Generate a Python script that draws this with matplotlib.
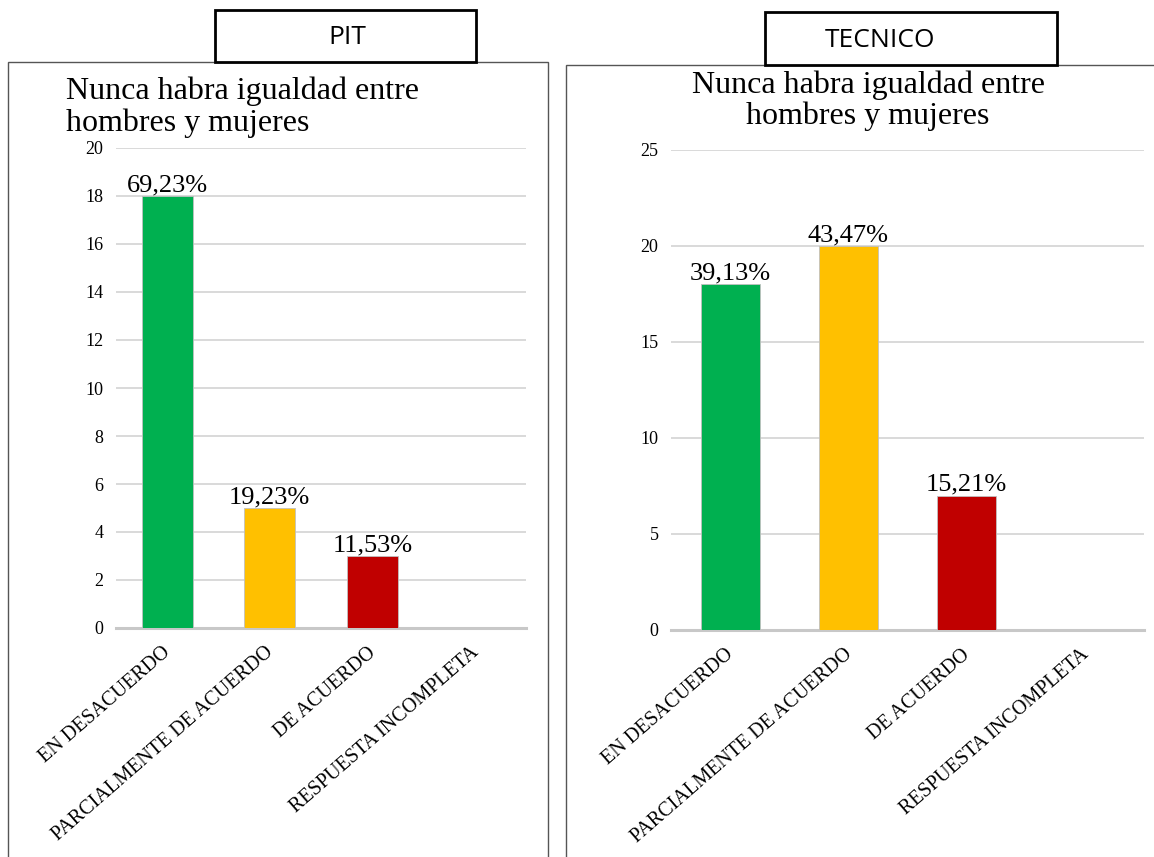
import matplotlib.pyplot as plt
import matplotlib.transforms as mtrans
from matplotlib.patches import Rectangle

# Data
categorias = ["EN DESACUERDO", "PARCIALMENTE DE ACUERDO", "DE ACUERDO", "RESPUESTA INCOMPLETA"]
pit_valores = [18, 5, 3, 0]
pit_etiquetas = ["69,23%", "19,23%", "11,53%", ""]
tec_valores = [18, 20, 7, 0]
tec_etiquetas = ["39,13%", "43,47%", "15,21%", ""]
colores = ["#00B050", "#FFC000", "#C00000", "#7F7F7F"]
titulo = "Nunca habra igualdad entre\nhombres y mujeres"

W, H = 1154, 857
fig = plt.figure(figsize=(W / 100, H / 100), dpi=100)
serif = "Liberation Serif"


def px(x0, y0, x1, y1):
    # pixel box (top-left origin) -> figure fraction rect
    return [x0 / W, 1 - y1 / H, (x1 - x0) / W, (y1 - y0) / H]


def panel(rect, valores, etiquetas, ymax, ystep):
    ax = fig.add_axes(px(*rect))
    x = range(len(categorias))
    ax.bar(x, valores, width=0.5, color=colores, edgecolor="#c0c0c0",
           linewidth=0.6, zorder=3)
    for xi, v, t in zip(x, valores, etiquetas):
        if t:
            ax.text(xi, v, t, ha="center", va="bottom",
                    fontsize=19, family=serif, zorder=4)
    ax.set_xlim(-0.5, len(categorias) - 0.5)
    ax.set_ylim(0, ymax)
    ax.set_yticks(range(0, ymax + 1, ystep))
    ax.yaxis.grid(True, color="#d9d9d9", linewidth=1.4, zorder=0)
    for s in ["top", "right", "left"]:
        ax.spines[s].set_visible(False)
    ax.spines["bottom"].set_color("#c8c8c8")
    ax.spines["bottom"].set_linewidth(2.2)
    ax.tick_params(axis="y", length=0, pad=9, labelsize=13)
    ax.tick_params(axis="x", length=0, pad=11)
    ax.set_xticks(list(x))
    ax.set_xticklabels(categorias, rotation=41, ha="right", va="top",
                       rotation_mode="anchor", fontsize=14.5, family=serif)
    shift = mtrans.ScaledTranslation(-5 / 100, 0, fig.dpi_scale_trans)
    for lab in ax.get_xticklabels():
        lab.set_transform(lab.get_transform() + shift)
    for lab in ax.get_yticklabels():
        lab.set_family(serif)
    return ax


panel((116, 148, 526, 628), pit_valores, pit_etiquetas, 20, 2)
panel((671, 150, 1144, 630), tec_valores, tec_etiquetas, 25, 5)

# panel borders
fig.add_artist(Rectangle((8 / W, -0.01), 540 / W, 1 - 62 / H + 0.01, transform=fig.transFigure,
                         fill=False, edgecolor="#555555", linewidth=1))
fig.add_artist(Rectangle((566 / W, -0.01), 600 / W, 1 - 65 / H + 0.01, transform=fig.transFigure,
                         fill=False, edgecolor="#555555", linewidth=1))

# chart titles
fig.text(66 / W, 1 - 77 / H, titulo, ha="left", va="top", fontsize=23, family=serif,
         linespacing=1.1)
fig.text(868 / W, 1 - 70 / H, titulo, ha="center", va="top", fontsize=23, family=serif,
         linespacing=1.1)

# header boxes
for (x0, y0, x1, y1), tx, txt in [((215, 10, 476, 62), 347, "PIT"),
                                  ((765, 12, 1057, 65), 880, "TECNICO")]:
    fig.add_artist(Rectangle((x0 / W, 1 - y1 / H), (x1 - x0) / W, (y1 - y0) / H,
                             transform=fig.transFigure, facecolor="white",
                             edgecolor="black", linewidth=2, zorder=5))
    fig.text(tx / W, 1 - ((y0 + y1) / 2 + 2) / H, txt, ha="center", va="center",
             fontsize=19, family="Open Sans", zorder=6)

fig.savefig("out.png", dpi=100)
